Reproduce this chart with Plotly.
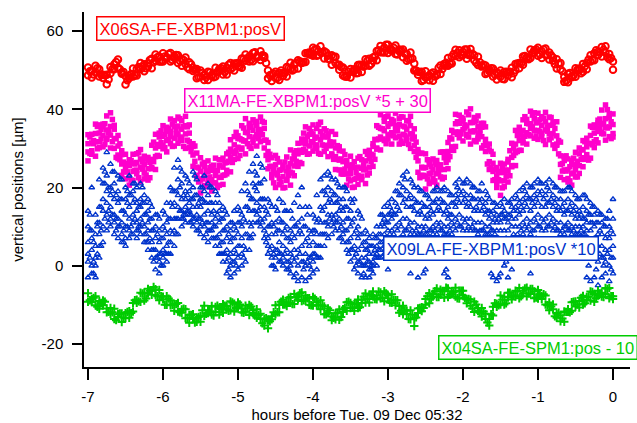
import plotly.graph_objects as go

# sample times (hours before Tue. 09 Dec 05:32): a reading every 1.5 minutes,
# split into the on-grid samples and the half-step samples in between
HOURS = [round(-7 + 0.05 * i, 3) for i in range(141)]
HOURS_HALF = [round(-6.975 + 0.05 * i, 3) for i in range(140)]

# ---------------- X06SA-FE-XBPM1:posV ----------------
RED_A = [50.7, 49.8, 51.1, 50.2, 48.8, 48.8, 50.8, 51.5, 52.7, 49.4,
         48.5, 48.5, 50.4, 50.3, 51.8, 51.5, 51.7, 52.9, 54.0, 53.5,
         54.3, 53.3, 54.4, 53.6, 53.8, 52.8, 53.2, 52.0, 50.6, 50.3,
         49.9, 48.8, 49.6, 48.8, 50.6, 50.3, 50.9, 50.6, 51.8, 51.7,
         51.8, 53.0, 54.0, 53.5, 54.4, 53.6, 54.8, 53.6, 49.9, 48.9,
         49.6, 49.3, 49.3, 50.8, 51.9, 51.5, 52.5, 52.1, 54.3, 54.5,
         55.7, 55.4, 56.1, 54.8, 53.7, 53.8, 53.4, 51.4, 50.7, 48.6,
         50.3, 50.2, 51.3, 51.2, 52.8, 52.9, 53.2, 54.9, 56.2, 55.8,
         56.5, 55.2, 56.3, 55.3, 55.3, 54.1, 54.5, 51.7, 49.6, 49.6,
         49.7, 48.7, 49.4, 49.0, 51.2, 51.6, 53.1, 53.4, 55.2, 55.1,
         54.7, 55.3, 55.4, 53.8, 53.4, 51.2, 51.2, 50.2, 50.4, 49.3,
         49.9, 49.5, 49.4, 50.6, 51.6, 51.8, 53.5, 53.3, 55.3, 55.1,
         55.7, 54.8, 55.5, 54.5, 53.2, 52.8, 51.8, 48.3, 49.0, 48.5,
         50.5, 50.4, 51.6, 51.9, 53.8, 54.3, 54.7, 55.9, 56.1, 54.1,
         52.2]
RED_B = [48.7, 48.1, 49.5, 48.4, 48.0, 46.4, 49.2, 50.2, 50.6, 49.1,
         46.3, 48.0, 48.4, 48.6, 50.2, 49.7, 50.9, 50.5, 52.4, 52.2,
         52.2, 53.0, 52.2, 53.1, 51.8, 51.1, 51.6, 50.2, 49.8, 47.9,
         48.3, 47.5, 47.5, 48.5, 48.4, 49.8, 48.9, 48.9, 50.2, 49.9,
         51.0, 50.6, 52.4, 52.2, 52.3, 53.3, 52.6, 53.1, 47.9, 47.2,
         48.0, 47.5, 48.5, 48.4, 50.3, 50.2, 50.4, 51.8, 52.1, 54.0,
         53.7, 53.7, 54.5, 53.0, 52.9, 51.4, 51.8, 50.1, 48.6, 48.3,
         48.1, 49.7, 49.3, 49.5, 51.2, 51.1, 52.4, 52.5, 54.6, 54.5,
         54.4, 54.9, 54.1, 54.8, 53.3, 52.4, 52.9, 49.9, 48.8, 47.2,
         48.1, 47.4, 47.3, 48.7, 49.0, 51.1, 51.1, 51.7, 53.6, 53.3,
         53.9, 52.9, 53.8, 52.5, 51.3, 50.9, 49.0, 49.7, 48.4, 47.6,
         48.3, 47.7, 48.6, 48.2, 50.0, 50.5, 51.4, 53.0, 53.1, 54.6,
         53.7, 53.1, 53.9, 52.7, 52.4, 50.4, 50.2, 47.0, 46.9, 48.2,
         48.3, 49.9, 49.6, 50.2, 52.2, 52.5, 53.9, 53.5, 54.5, 52.8,
         50.1]
RED_C = [49.7, 48.9, 50.5, 48.8, 48.7, 47.6, 50.2, 52.1, 50.2, 49.5,
         47.4, 49.0, 48.7, 50.8, 50.9, 50.5, 52.6, 52.0, 53.3, 52.2,
         53.5, 54.1, 52.6, 53.9, 52.4, 52.6, 50.7, 51.5, 50.1, 48.2,
         49.3, 48.2, 49.4, 48.2, 49.6, 50.5, 49.5, 51.4, 50.6, 51.7,
         50.9, 52.9, 53.0, 52.6, 54.6, 53.4, 53.8, 51.8, 48.7, 49.1,
         48.0, 49.9, 49.3, 50.6, 49.9, 51.9, 52.2, 52.0, 54.4, 54.0,
         55.3, 53.9, 54.5, 54.5, 52.7, 53.4, 51.3, 50.8, 48.4, 49.6,
         49.6, 49.2, 51.4, 50.9, 52.4, 51.6, 53.5, 55.1, 54.6, 56.5,
         55.3, 55.7, 54.0, 55.1, 54.2, 52.8, 53.0, 49.9, 49.5, 47.5,
         48.3, 49.1, 48.4, 50.6, 50.3, 51.9, 51.6, 54.1, 54.4, 53.8,
         55.3, 53.9, 54.2, 51.9, 52.0, 51.4, 49.3, 50.5, 48.9, 49.2,
         47.8, 49.6, 49.6, 49.2, 51.7, 51.7, 53.6, 52.8, 54.3, 55.3,
         54.0, 55.3, 53.8, 53.8, 51.5, 51.7, 49.7, 47.3, 49.3, 48.7,
         50.1, 49.2, 51.0, 52.7, 52.6, 55.1, 54.5, 55.2, 53.3, 53.1]

# ---------------- X11MA-FE-XBPM1:posV *5 + 30 ----------------
MAG_1 = [33.5, 33.6, 36.2, 36.0, 36.2, 38.3, 39.1, 35.9, 33.3, 29.4,
         28.5, 27.1, 28.5, 28.6, 29.7, 28.0, 27.7, 30.8, 33.6, 33.9,
         35.8, 35.4, 37.5, 37.1, 38.0, 37.1, 38.2, 36.0, 31.2, 28.8,
         27.6, 26.4, 26.8, 25.4, 27.5, 27.1, 27.5, 28.6, 32.2, 33.0,
         33.2, 35.8, 37.6, 36.4, 37.3, 36.9, 38.0, 36.6, 31.5, 27.6,
         28.2, 26.5, 25.7, 27.8, 29.6, 28.9, 31.3, 32.4, 35.5, 35.1,
         36.0, 35.1, 36.7, 35.0, 33.7, 34.3, 33.6, 30.4, 29.3, 26.9,
         28.0, 26.6, 27.5, 27.1, 29.2, 29.5, 31.2, 35.8, 38.6, 37.9,
         38.3, 37.4, 39.0, 37.6, 38.0, 37.1, 38.2, 35.0, 29.7, 28.8,
         28.6, 26.9, 27.3, 26.9, 29.0, 29.1, 31.5, 34.6, 38.7, 38.5,
         37.7, 39.3, 40.1, 37.9, 38.3, 36.4, 35.5, 31.1, 28.5, 25.1,
         26.2, 26.0, 27.2, 31.3, 34.6, 35.4, 37.3, 37.4, 39.5, 39.1,
         39.0, 38.1, 39.2, 38.0, 36.7, 36.8, 31.6, 27.9, 27.3, 26.9,
         29.0, 30.1, 32.0, 32.6, 35.7, 36.0, 37.2, 39.8, 41.1, 38.9,
         38.8]
MAG_2 = [31.2, 31.4, 33.8, 33.9, 35.5, 34.7, 35.6, 34.9, 30.6, 28.4,
         25.3, 25.6, 26.2, 26.4, 27.3, 25.9, 27.0, 27.2, 30.1, 32.9,
         33.1, 34.4, 34.3, 35.6, 35.7, 34.9, 35.8, 33.9, 30.5, 25.2,
         24.1, 25.4, 24.1, 24.4, 24.3, 25.6, 25.2, 26.4, 29.8, 30.9,
         32.5, 32.2, 34.1, 35.4, 34.6, 35.9, 34.8, 35.1, 29.2, 25.4,
         25.8, 24.4, 25.0, 24.2, 26.1, 27.9, 28.6, 31.4, 32.3, 33.6,
         33.7, 32.9, 34.3, 32.9, 33.0, 30.7, 30.1, 29.4, 26.6, 25.9,
         24.8, 25.1, 25.2, 24.9, 26.8, 27.4, 30.5, 32.2, 35.1, 36.9,
         35.6, 36.4, 35.8, 36.1, 35.7, 34.9, 35.8, 32.9, 29.0, 25.2,
         25.1, 25.9, 24.6, 25.9, 25.8, 27.6, 29.2, 32.4, 36.3, 36.4,
         37.0, 35.7, 36.6, 36.9, 35.6, 35.4, 32.3, 29.6, 26.2, 22.9,
         23.8, 23.9, 26.5, 27.7, 31.1, 34.4, 34.6, 36.4, 36.3, 37.6,
         36.7, 35.9, 36.8, 35.9, 36.0, 33.2, 28.1, 26.9, 24.6, 25.9,
         25.8, 28.6, 29.7, 30.4, 33.3, 33.9, 36.5, 36.2, 37.6, 37.9,
         36.1]
MAG_3 = [29.1, 29.4, 31.7, 31.7, 33.3, 32.6, 33.4, 32.5, 28.3, 26.0,
         24.1, 22.6, 24.1, 24.4, 25.2, 23.7, 24.8, 25.1, 27.9, 30.5,
         30.8, 32.0, 33.1, 32.6, 33.6, 32.9, 33.7, 31.7, 28.3, 23.1,
         21.9, 23.0, 21.8, 22.0, 23.1, 22.6, 23.1, 24.4, 27.7, 28.7,
         30.3, 30.1, 31.9, 33.0, 32.3, 33.5, 33.6, 32.1, 27.1, 23.4,
         23.7, 22.2, 22.8, 22.1, 23.9, 25.5, 26.3, 29.0, 31.1, 30.6,
         31.6, 30.9, 32.2, 30.7, 30.8, 28.6, 27.9, 27.0, 24.3, 23.5,
         23.6, 22.1, 23.1, 22.9, 24.7, 25.2, 28.3, 30.1, 32.9, 34.5,
         33.3, 34.0, 34.6, 33.1, 33.6, 32.9, 33.7, 30.7, 26.8, 23.1,
         22.9, 23.5, 22.3, 23.5, 24.6, 24.6, 27.1, 30.4, 34.2, 34.2,
         34.8, 33.6, 34.4, 34.5, 33.3, 33.0, 31.1, 26.6, 24.1, 20.9,
         21.7, 21.7, 24.3, 25.6, 28.9, 32.0, 32.3, 34.0, 35.1, 34.6,
         34.6, 33.9, 34.7, 33.7, 33.8, 31.1, 25.9, 24.5, 22.3, 23.5,
         24.6, 25.6, 27.6, 28.4, 31.2, 31.7, 34.3, 34.1, 35.4, 35.5,
         33.8]
MAG_4 = [26.8, 28.5, 28.0, 30.2, 30.4, 32.3, 30.1, 30.0, 27.4, 23.1,
         22.2, 20.6, 21.8, 23.5, 21.5, 22.2, 21.9, 24.8, 24.6, 28.0,
         29.9, 29.1, 31.2, 30.6, 31.3, 32.0, 30.0, 30.2, 25.4, 22.8,
         18.6, 20.5, 20.9, 19.1, 21.2, 20.6, 20.8, 23.5, 24.0, 27.2,
         27.4, 29.8, 28.6, 30.5, 31.4, 30.6, 31.7, 30.1, 24.8, 22.5,
         20.0, 20.7, 19.9, 21.8, 20.6, 23.0, 25.4, 26.1, 29.2, 28.6,
         29.3, 30.0, 28.5, 29.2, 27.9, 28.3, 24.6, 24.5, 23.4, 20.6,
         21.7, 20.1, 20.8, 22.0, 21.0, 23.7, 25.4, 29.8, 29.6, 32.0,
         32.4, 31.1, 32.7, 31.1, 31.3, 32.0, 30.0, 29.2, 23.9, 22.8,
         19.6, 21.0, 21.4, 20.6, 22.7, 22.6, 24.8, 29.5, 30.5, 32.7,
         31.9, 33.3, 31.1, 32.0, 32.4, 30.1, 29.2, 24.6, 21.8, 20.0,
         18.0, 20.2, 21.4, 25.3, 25.6, 29.5, 31.4, 31.1, 33.2, 32.6,
         32.3, 33.0, 31.0, 32.2, 30.9, 30.8, 22.6, 22.0, 21.4, 20.6,
         22.7, 23.6, 25.3, 27.5, 27.5, 30.2, 31.4, 33.8, 32.1, 33.0,
         32.9]
MAG_5 = [32.9, 32.0, 35.6, 34.8, 36.3, 34.6, 37.4, 32.5, 31.2, 26.5,
         26.1, 26.9, 26.0, 28.9, 26.6, 27.3, 26.4, 31.6, 31.0, 34.5,
         33.5, 35.1, 36.2, 34.8, 37.6, 35.6, 35.5, 31.1, 30.6, 25.0,
         26.0, 24.2, 25.1, 25.7, 24.3, 27.1, 26.3, 29.0, 29.1, 34.1,
         32.5, 35.2, 34.0, 35.6, 36.7, 34.8, 36.9, 32.1, 28.5, 24.6,
         27.4, 24.5, 26.5, 25.2, 27.3, 29.4, 29.5, 33.9, 33.1, 34.3,
         32.6, 36.1, 33.3, 34.5, 31.7, 31.6, 30.7, 27.3, 28.4, 25.6,
         25.8, 23.9, 27.9, 25.8, 28.5, 28.5, 32.3, 35.4, 35.0, 38.1,
         36.3, 37.0, 34.9, 38.1, 35.5, 37.0, 33.7, 31.6, 28.7, 25.0,
         27.1, 25.3, 26.3, 24.9, 29.1, 28.0, 32.7, 34.0, 36.8, 37.9,
         36.0, 38.6, 36.6, 37.0, 34.6, 36.4, 30.8, 29.2, 24.5, 24.1,
         24.9, 24.5, 29.4, 30.1, 33.3, 33.4, 38.1, 36.3, 38.5, 36.5,
         37.3, 37.7, 35.5, 37.9, 35.1, 32.0, 26.1, 28.1, 25.3, 27.5,
         26.7, 29.6, 31.7, 31.3, 35.4, 35.3, 37.5, 36.4, 39.9, 36.8]
MAG_6 = [28.7, 31.2, 29.9, 32.4, 31.0, 33.9, 31.7, 27.7, 27.1, 24.0,
         24.0, 21.9, 24.4, 22.5, 24.7, 23.2, 22.5, 26.6, 28.2, 31.5,
         30.2, 32.2, 30.5, 33.7, 32.4, 30.5, 32.1, 29.2, 26.7, 21.4,
         22.2, 20.2, 22.7, 21.2, 20.0, 22.6, 23.2, 26.7, 26.4, 29.4,
         28.2, 31.9, 31.2, 30.0, 32.9, 32.5, 33.5, 28.2, 25.4, 21.2,
         23.2, 21.4, 20.0, 23.1, 23.7, 26.7, 26.4, 29.7, 28.5, 31.7,
         30.4, 28.7, 30.9, 30.0, 30.7, 27.2, 27.2, 23.5, 24.7, 22.2,
         20.0, 22.4, 22.5, 24.5, 23.2, 26.7, 27.2, 32.4, 32.4, 31.2,
         33.6, 33.2, 34.5, 31.9, 33.4, 31.0, 32.4, 27.7, 22.5, 23.1,
         22.2, 23.7, 21.7, 23.7, 22.2, 26.4, 27.9, 29.5, 33.6, 33.7,
         35.2, 32.9, 34.2, 31.7, 33.9, 30.7, 26.0, 25.1, 22.0, 22.0,
         19.9, 22.9, 23.0, 28.2, 29.2, 29.5, 33.1, 33.5, 35.5, 33.2,
         34.4, 32.0, 34.4, 32.7, 30.0, 28.6, 24.2, 24.2, 21.7, 23.7,
         22.7, 27.2, 27.2, 27.0, 30.9, 32.2, 35.2, 33.7, 35.2, 32.5]

# ---------------- X09LA-FE-XBPM1:posV *10 (quantised) ----------------
BLUE_1 = [14, 20, 13, 22, 25, 29, 26, 24, 23, 22,
          20, 23, 21, 20, 21, 18, 17, 15, 13, 12,
          14, 16, 20, 25, 27, 24, 23, 21, 24, 22,
          20, 23, 21, 20, 19, 16, 15, 13, 11, 14,
          15, 19, 21, 24, 26, 28, 26, 22, 17, 15,
          15, 17, 16, 14, 14, 16, 18, 20, 15, 15,
          13, 18, 22, 23, 24, 22, 22, 20, 20, 19,
          17, 17, 14, 12, 9, 7, 8, 10, 13, 15,
          16, 17, 19, 21, 23, 24, 22, 20, 20, 19,
          18, 17, 19, 20, 19, 20, 19, 18, 21, 22,
          21, 22, 21, 20, 19, 21, 19, 17, 16, 15,
          16, 17, 16, 17, 18, 19, 20, 21, 20, 21,
          22, 21, 21, 22, 21, 20, 19, 19, 20, 19,
          18, 17, 18, 17, 16, 15, 14, 13, 12, 14,
          17]
BLUE_2 = [10, 9, 8, 15, 21, 23, 20, 21, 19, 17,
          17, 18, 19, 16, 17, 16, 14, 12, 10, 9,
          10, 11, 16, 19, 22, 21, 19, 19, 20, 18,
          17, 19, 18, 16, 16, 14, 12, 10, 9, 10,
          11, 13, 15, 18, 21, 23, 21, 17, 13, 11,
          11, 12, 11, 10, 9, 10, 11, 12, 10, 9,
          9, 11, 15, 19, 20, 19, 18, 17, 17, 15,
          14, 12, 10, 8, 6, 5, 5, 7, 10, 12,
          13, 14, 16, 18, 20, 19, 18, 17, 16, 16,
          15, 15, 16, 17, 17, 16, 15, 16, 18, 19,
          19, 18, 18, 17, 17, 17, 16, 14, 14, 13,
          13, 14, 13, 15, 15, 16, 17, 18, 17, 18,
          19, 19, 18, 19, 18, 17, 17, 16, 17, 16,
          15, 14, 15, 14, 13, 13, 11, 11, 10, 10,
          12]
BLUE_3 = [6, 7, 5, 11, 17, 19, 18, 17, 16, 14,
          13, 15, 16, 14, 15, 13, 11, 9, 7, 6,
          7, 8, 12, 16, 18, 17, 17, 16, 17, 15,
          15, 16, 14, 13, 12, 11, 9, 7, 6, 7,
          8, 10, 11, 14, 17, 19, 17, 15, 10, 8,
          8, 9, 8, 7, 6, 7, 8, 8, 6, 5,
          6, 8, 11, 15, 16, 16, 16, 14, 14, 12,
          10, 8, 7, 5, 4, 3, 3, 5, 8, 10,
          11, 12, 13, 14, 16, 15, 15, 14, 13, 13,
          12, 12, 13, 14, 14, 13, 12, 13, 15, 16,
          16, 15, 15, 14, 14, 14, 13, 12, 11, 11,
          11, 12, 11, 12, 12, 13, 14, 15, 14, 15,
          16, 15, 15, 16, 15, 14, 14, 13, 14, 13,
          12, 12, 12, 11, 11, 10, 8, 8, 7, 7,
          8]
BLUE_4 = [3, 4, 2, 8, 14, 16, 15, 13, 12, 11,
          10, 12, 13, 11, 12, 10, 9, 6, 4, 3,
          4, 5, 9, 12, 15, 14, 15, 14, 15, 13,
          12, 13, 11, 11, 10, 8, 6, 4, 3, 4,
          5, 7, 8, 11, 14, 16, 15, 12, 7, 5,
          4, 6, 5, 4, 3, 4, 4, 5, 3, 2,
          3, 5, 8, 11, 13, 13, 13, 12, 11, 9,
          7, 5, 4, 2, 2, 1, 1, 3, 6, 8,
          9, 9, 10, 11, 12, 12, 11, 11, 10, 10,
          10, 9, 10, 11, 11, 10, 10, 11, 12, 13,
          12, 12, 12, 11, 11, 11, 10, 10, 9, 9,
          9, 9, 9, 10, 10, 10, 11, 12, 11, 12,
          13, 12, 12, 13, 12, 11, 11, 10, 11, 10,
          10, 10, 10, 9, 9, 7, 5, 5, 4, 4,
          5]
BLUE_5 = [1, 0, 0, 5, 10, 13, 12, 11, 10, 8,
          7, 9, 11, 9, 10, 8, 6, 4, 2, 1,
          2, 3, 6, 9, 12, 12, 13, 13, 12, 11,
          10, 10, 9, 9, 7, 5, 3, 1, 0, 1,
          2, 3, 4, 7, 11, 13, 12, 9, 5, 2,
          2, 3, 2, 1, 0, 1, 0, 1, 0, 0,
          1, 2, 5, 8, 10, 11, 11, 9, 8, 6,
          4, 2, 1, 0, 0, -1, 0, 2, 4, 5,
          5, 6, 6, 7, 8, 9, 8, 8, 8, 8,
          8, 7, 8, 8, 9, 8, 8, 8, 9, 10,
          9, 9, 9, 9, 8, 9, 8, 8, 6, 5,
          4, 5, 4, 5, 6, 7, 8, 9, 8, 9,
          10, 9, 9, 10, 9, 9, 8, 8, 9, 8,
          8, 8, 8, 5, 4, 4, 1, 2, 1, 0,
          2]
BLUE_6 = [-3, -2, -3, 2, 6, 9, 10, 8, 7, 6,
          5, 7, 8, 7, 8, 6, 4, 2, -1, -2,
          0, 1, 3, 5, 8, 10, 11, 11, 10, 9,
          8, 7, 6, 7, 5, 3, 1, -2, -3, -2,
          -1, 0, 1, 4, 8, 11, 10, 7, 3, 0,
          -1, 1, 0, -1, -2, -3, -4, -3, -4, -3,
          -2, -1, 2, 5, 7, 8, 9, 7, 6, 4,
          1, -1, -2, -3, -3, -3, -2, 0, 2, 3,
          -1, 3, 4, 3, 4, 5, -2, 3, -3, 4,
          -1, 3, 5, 4, 3, -2, -3, 2, 4, 5,
          3, 4, 2, 4, 3, 5, 3, 2, -3, -4,
          -2, 0, -3, -1, 3, 4, 3, 5, -2, 4,
          5, 3, 4, 5, 3, 4, 2, 3, 5, 4,
          3, 2, 4, -3, -4, -3, -5, -3, -2, -4,
          -2]
BLUE_7 = [9, 6, 10, 15, 21, 20, 19, 18, 17, 14,
          16, 18, 17, 15, 16, 13, 12, 9, 8, 7,
          9, 12, 15, 19, 20, 18, 18, 17, 18, 16,
          17, 16, 16, 14, 13, 12, 9, 8, 7, 9,
          11, 12, 15, 17, 20, 21, 17, 14, 10, 10,
          9, 11, 9, 7, 8, 10, 9, 10, 7, 8,
          9, 12, 14, 18, 17, 18, 16, 15, 15, 12,
          11, 9, 8, 6, 4, 5, 4, 8, 11, 11,
          13, 13, 15, 18, 17, 17, 15, 16, 14, 15,
          13, 14, 16, 15, 16, 14, 13, 16, 17, 18,
          17, 16, 17, 15, 16, 15, 14, 13, 12, 12,
          13, 12, 13, 14, 14, 15, 16, 17, 16, 17,
          18, 17, 16, 17, 16, 15, 15, 14, 15, 14,
          13, 13, 12, 13, 11, 11, 9, 10, 8, 9]
BLUE_8 = [2, 1, 3, 9, 12, 14, 13, 12, 10, 9,
          10, 10, 12, 10, 11, 8, 7, 4, 2, 3,
          3, 6, 8, 12, 14, 13, 14, 13, 12, 12,
          11, 11, 9, 10, 7, 6, 3, 2, 1, 3,
          5, 5, 8, 10, 14, 14, 11, 8, 4, 3,
          4, 3, 3, 1, 2, 2, 3, 1, 1, 2,
          3, 5, 8, 11, 12, 12, 11, 10, 9, 6,
          4, 3, 1, 0, 1, 0, 2, 4, 6, 7,
          8, 8, 9, 10, 9, 10, 9, 9, 8, 9,
          8, 9, 9, 10, 9, 8, 9, 10, 11, 10,
          11, 10, 10, 9, 9, 9, 8, 9, 8, 7,
          6, 7, 6, 8, 8, 9, 10, 10, 9, 11,
          10, 11, 10, 11, 10, 9, 9, 10, 9, 9,
          8, 9, 8, 7, 5, 4, 3, 2, 3, 2]
BLUE_9 = [13, -2, 11, 5, 24, 11, 24, 9, 22, 6,
          19, 8, 21, 9, 20, 6, 16, 1, 13, 0,
          13, 3, 19, 8, 25, 12, 22, 11, 23, 9,
          20, 8, 20, 7, 18, 3, 14, -1, 11, 0,
          14, 2, 19, 7, 24, 11, 25, 6, 16, 0,
          14, 1, 14, -1, 12, -2, 15, -1, 13, -1,
          12, 2, 19, 8, 23, 10, 21, 7, 20, 3,
          16, 0, 13, -2, 8, -1, 7, 2, 13, 2,
          15, 5, 19, 5, 22, 3, 21, 2, 19, -2,
          18, 6, 19, 5, 19, -1, 18, 6, 20, 6,
          21, 5, 20, 6, 19, 6, 18, -2, 16, -3,
          15, 1, 16, 4, 17, 5, 19, 3, 20, 7,
          21, 6, 20, 6, 20, 5, 19, 6, 20, 5,
          17, 6, 18, 0, 15, -1, 13, 0, 12, -1]

# ---------------- X04SA-FE-SPM1:pos - 10 ----------------
GREEN_A = [-7.0, -8.5, -7.8, -9.0, -8.9, -10.9, -10.8, -11.0, -12.4, -12.2,
           -12.1, -11.6, -9.5, -8.7, -6.9, -6.9, -5.9, -6.4, -6.0, -6.2,
           -7.9, -7.8, -8.8, -9.8, -9.5, -11.2, -11.1, -12.6, -12.4, -13.3,
           -12.8, -10.2, -11.4, -10.3, -10.5, -10.8, -9.8, -10.3, -9.1, -9.7,
           -9.4, -10.9, -10.2, -10.0, -11.4, -11.1, -12.3, -13.6, -13.8, -12.9,
           -10.1, -9.9, -8.7, -9.3, -8.0, -7.2, -7.9, -6.8, -7.6, -8.3,
           -8.0, -9.3, -8.8, -10.4, -10.9, -12.9, -12.2, -11.2, -11.1, -9.3,
           -9.5, -9.8, -8.6, -8.7, -7.1, -7.4, -6.6, -7.6, -6.8, -6.5,
           -7.6, -7.3, -8.8, -10.3, -10.2, -11.5, -11.4, -13.4, -10.9, -10.6,
           -8.5, -7.0, -7.2, -5.8, -6.1, -6.5, -5.8, -6.5, -5.6, -6.4,
           -6.4, -8.6, -8.7, -9.2, -10.8, -10.8, -12.3, -13.6, -10.5, -9.7,
           -7.6, -7.9, -6.9, -7.6, -6.4, -5.7, -6.4, -5.6, -5.9, -6.6,
           -6.2, -7.7, -7.6, -9.4, -9.9, -12.3, -12.7, -11.7, -11.1, -9.3,
           -9.1, -9.0, -7.7, -8.0, -6.6, -7.2, -6.4, -6.9, -5.7, -5.7,
           -7.8]
GREEN_B = [-9.2, -9.3, -10.1, -11.0, -10.1, -11.9, -12.3, -13.6, -13.1, -14.4,
           -13.4, -13.3, -11.7, -9.5, -9.2, -8.9, -7.1, -7.4, -7.5, -8.8,
           -8.6, -10.0, -10.1, -11.5, -11.7, -12.0, -13.4, -14.6, -13.6, -14.3,
           -14.3, -12.8, -12.1, -12.5, -11.8, -12.5, -12.0, -11.1, -11.4, -11.7,
           -10.6, -11.9, -11.7, -12.6, -12.1, -13.3, -13.6, -15.3, -16.0, -13.7,
           -12.4, -11.9, -9.9, -10.3, -9.5, -9.8, -8.6, -9.0, -8.9, -10.0,
           -10.2, -10.1, -11.1, -12.4, -12.1, -13.9, -13.7, -13.8, -11.8, -11.5,
           -10.8, -11.5, -10.8, -9.5, -9.4, -9.4, -7.8, -8.6, -8.3, -9.1,
           -8.3, -9.5, -10.1, -12.0, -12.4, -12.3, -13.7, -15.4, -12.1, -11.6,
           -10.0, -9.6, -7.9, -8.0, -7.4, -8.2, -8.0, -7.3, -7.9, -8.4,
           -7.6, -9.6, -10.2, -11.8, -11.5, -13.0, -13.6, -15.3, -12.7, -10.5,
           -9.9, -9.9, -8.1, -8.6, -7.9, -8.3, -7.1, -7.8, -7.2, -8.3,
           -8.4, -8.5, -9.9, -11.4, -11.1, -13.3, -14.2, -14.3, -11.8, -11.5,
           -10.4, -10.7, -9.9, -8.8, -8.9, -9.2, -7.6, -7.9, -7.2, -8.3,
           -8.5]
GREEN_C = [-8.8, -8.2, -10.5, -9.5, -9.2, -11.8, -11.9, -13.9, -12.2, -13.3,
           -11.8, -12.1, -8.8, -9.1, -7.1, -8.4, -6.4, -5.4, -7.8, -7.8,
           -10.0, -8.4, -10.0, -9.8, -11.9, -11.0, -13.3, -12.6, -14.5, -13.1,
           -11.4, -12.3, -11.6, -12.7, -10.2, -11.1, -10.2, -11.5, -9.4, -10.8,
           -9.9, -12.0, -10.9, -10.4, -12.7, -12.6, -14.7, -13.4, -14.2, -11.9,
           -11.9, -9.2, -9.9, -8.2, -9.8, -8.1, -7.0, -8.8, -8.3, -10.1,
           -8.4, -10.1, -10.1, -12.4, -11.4, -13.3, -12.0, -13.1, -10.7, -9.2,
           -10.7, -9.7, -10.6, -7.9, -8.5, -7.4, -8.5, -6.6, -8.1, -7.1,
           -9.4, -8.7, -8.8, -11.5, -11.4, -13.6, -12.5, -13.2, -10.8, -10.8,
           -7.8, -8.4, -6.5, -8.0, -6.5, -5.6, -7.4, -6.8, -8.3, -6.4,
           -8.2, -8.5, -10.9, -9.9, -12.0, -11.7, -14.5, -12.4, -9.6, -10.1,
           -8.7, -9.6, -6.9, -7.6, -6.6, -7.8, -5.8, -7.1, -5.9, -8.1,
           -7.3, -7.3, -10.1, -10.4, -12.9, -12.0, -13.5, -11.8, -11.9, -9.2,
           -9.9, -8.2, -9.6, -7.9, -6.7, -8.3, -7.1, -8.0, -5.9, -7.8]

X_TICKS = [-7, -6, -5, -4, -3, -2, -1, 0]
X_TICK_LABELS = ["-7", "-6", "-5", "-4", "-3", "-2", "-1", "0"]
Y_TICKS = [-20, 0, 20, 40, 60]
Y_TICK_LABELS = ["-20", "0", "20", "40", "60"]

LABEL_RED = "X06SA-FE-XBPM1:posV"
LABEL_MAG = "X11MA-FE-XBPM1:posV *5 + 30"
LABEL_BLUE = "X09LA-FE-XBPM1:posV *10"
LABEL_GREEN = "X04SA-FE-SPM1:pos - 10"

for lst in (RED_A, RED_B, MAG_1, MAG_2, MAG_3, MAG_4, BLUE_1, BLUE_2, BLUE_3,
            BLUE_4, BLUE_5, BLUE_6, GREEN_A, GREEN_B):
    assert len(lst) == len(HOURS), len(lst)
for lst in (RED_C, MAG_5, MAG_6, BLUE_7, BLUE_8, BLUE_9, GREEN_C):
    assert len(lst) == len(HOURS_HALF), len(lst)

RED = "#ff0000"
MAG = "#ff00cc"
BLUE = "#0033cc"
GREEN = "#00cc00"

red_x = HOURS * 2 + HOURS_HALF
red_y = RED_A + RED_B + RED_C
mag_x = HOURS * 4 + HOURS_HALF * 2
mag_y = MAG_1 + MAG_2 + MAG_3 + MAG_4 + MAG_5 + MAG_6
blue_x = HOURS * 6 + HOURS_HALF * 3
blue_y = BLUE_1 + BLUE_2 + BLUE_3 + BLUE_4 + BLUE_5 + BLUE_6 + BLUE_7 + BLUE_8 + BLUE_9
green_x = HOURS * 2 + HOURS_HALF
green_y = GREEN_A + GREEN_B + GREEN_C

fig = go.Figure()
fig.add_trace(go.Scatter(
    x=red_x, y=red_y, mode="markers", name=LABEL_RED,
    marker=dict(symbol="circle-open", size=6.5, color=RED, line=dict(width=2, color=RED))))
fig.add_trace(go.Scatter(
    x=mag_x, y=mag_y, mode="markers", name=LABEL_MAG,
    marker=dict(symbol="square", size=5.5, color=MAG, line=dict(width=0))))
fig.add_trace(go.Scatter(
    x=blue_x, y=blue_y, mode="markers", name=LABEL_BLUE,
    marker=dict(symbol="triangle-up-open", size=5, color=BLUE, line=dict(width=1.3, color=BLUE))))
fig.add_trace(go.Scatter(
    x=green_x, y=green_y, mode="markers", name=LABEL_GREEN,
    marker=dict(symbol="cross-thin-open", size=6, color=GREEN, line=dict(width=2, color=GREEN))))

FONT = "Liberation Sans, Arial, Helvetica, sans-serif"

def box(text, x, y, color, xanchor="center"):
    return dict(x=x, y=y, xref="x", yref="y", text=text, showarrow=False,
                font=dict(family=FONT, size=16.5, color=color),
                bordercolor=color, borderwidth=1.5, borderpad=2, bgcolor="white",
                xanchor=xanchor, yanchor="middle")

fig.update_layout(
    template="none",
    width=637, height=423,
    margin=dict(l=84, r=7, t=12, b=56),
    paper_bgcolor="white", plot_bgcolor="white",
    showlegend=False,
    font=dict(family=FONT, size=15, color="black"),
    annotations=[
        box(LABEL_RED, -5.64, 60.64, RED),
        box(LABEL_MAG, -4.067, 42.24, MAG),
        box(LABEL_BLUE, -1.627, 4.41, BLUE),
        box(LABEL_GREEN, -2.333, -21.02, GREEN, xanchor="left"),
    ],
)
fig.update_xaxes(
    range=[-7.0533, 0.2267], autorange=False, automargin=False,
    showline=True, linecolor="black", linewidth=1.5, mirror=False,
    ticks="outside", ticklen=11, tickwidth=1.5, tickcolor="black",
    tickvals=X_TICKS, ticktext=X_TICK_LABELS,
    showgrid=False, zeroline=False,
    tickfont=dict(family=FONT, size=15, color="black"),
    ticklabelstandoff=4,
    title=dict(text="hours before Tue. 09 Dec 05:32", standoff=6,
               font=dict(family=FONT, size=15, color="black")),
)
fig.update_yaxes(
    range=[-25.88, 64.86], autorange=False, automargin=False,
    showline=True, linecolor="black", linewidth=1.5, mirror=False,
    ticks="outside", ticklen=10, tickwidth=1.5, tickcolor="black",
    tickvals=Y_TICKS, ticktext=Y_TICK_LABELS,
    showgrid=False, zeroline=False,
    tickfont=dict(family=FONT, size=15, color="black"),
    ticklabelstandoff=6,
    title=dict(text="vertical positions [µm]", standoff=14,
               font=dict(family=FONT, size=15, color="black")),
)

fig.write_html("out.html")
